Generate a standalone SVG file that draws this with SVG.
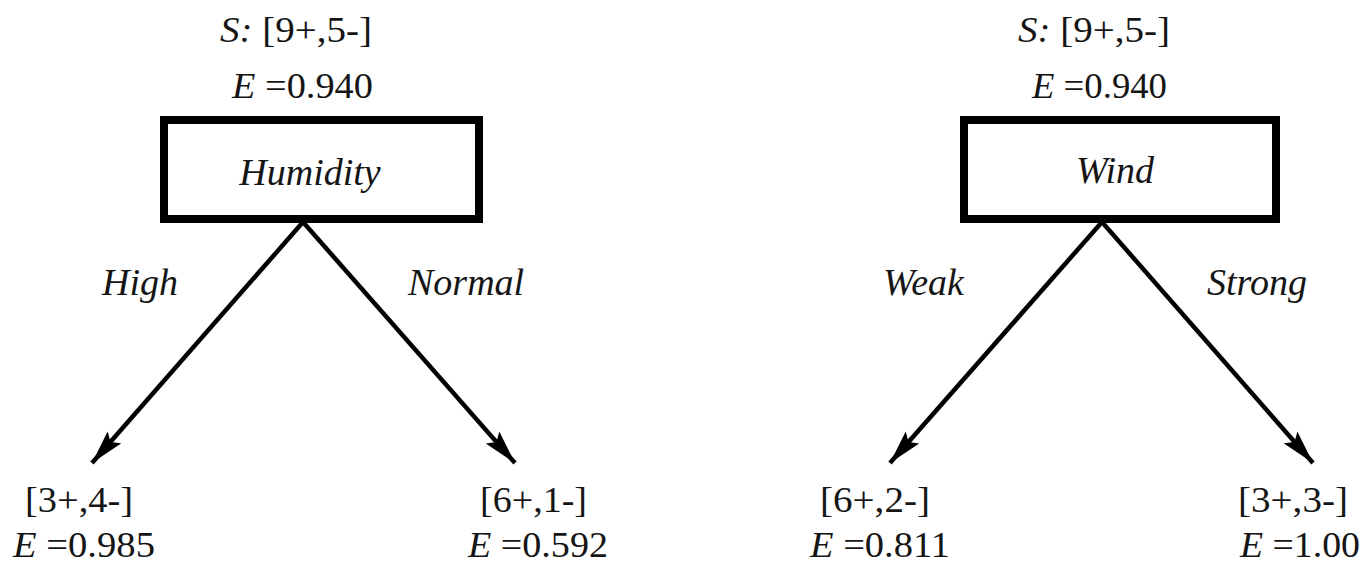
<svg xmlns="http://www.w3.org/2000/svg" width="1368" height="563" viewBox="0 0 1368 563">
<style>
  text { font-family: "Liberation Serif", "Times New Roman", serif; fill: #151515; }
  .t { font-size: 35px; }
  .lbl { font-size: 38px; font-style: italic; }
  .it { font-style: italic; }
  .box { fill: #fff; stroke: #000; stroke-width: 8; }
  .edge { stroke: #000; stroke-width: 4.5; fill: none; marker-end: url(#ah); }
</style>
<defs>
  <marker id="ah" markerUnits="userSpaceOnUse" markerWidth="36" markerHeight="20" viewBox="0 0 36 20" refX="34" refY="10" orient="auto">
    <path d="M0,1 L34,10 L0,19 L6,10 Z" fill="#000"/>
  </marker>
</defs>
<rect width="1368" height="563" fill="#fff"/>

<g id="connectors">
  <line class="edge" x1="303" y1="222" x2="92" y2="463"/>
  <line class="edge" x1="303" y1="222" x2="515" y2="463"/>
  <line class="edge" x1="1102" y1="222" x2="890" y2="463"/>
  <line class="edge" x1="1102" y1="222" x2="1313" y2="463"/>
  <text class="lbl" x="102" y="295">High</text>
  <text class="lbl" x="408" y="295">Normal</text>
  <text class="lbl" x="883" y="295">Weak</text>
  <text class="lbl" x="1207" y="295">Strong</text>
</g>

<g id="humidity">
  <text class="t" x="220" y="42" textLength="152" lengthAdjust="spacingAndGlyphs"><tspan class="it">S:</tspan> [9+,5-]</text>
  <text class="t" x="232" y="98" textLength="141" lengthAdjust="spacingAndGlyphs"><tspan class="it">E</tspan> =0.940</text>
  <rect class="box" x="164" y="120" width="315" height="99"/>
  <text class="lbl" x="310" y="185" text-anchor="middle">Humidity</text>
</g>

<g id="wind">
  <text class="t" x="1018" y="42" textLength="152" lengthAdjust="spacingAndGlyphs"><tspan class="it">S:</tspan> [9+,5-]</text>
  <text class="t" x="1032" y="98" textLength="135" lengthAdjust="spacingAndGlyphs"><tspan class="it">E</tspan> =0.940</text>
  <rect class="box" x="964" y="120" width="312" height="99"/>
  <text class="lbl" x="1115" y="183" text-anchor="middle">Wind</text>
</g>

<g id="high-leaf">
  <text class="t" x="25" y="512" textLength="108" lengthAdjust="spacingAndGlyphs">[3+,4-]</text>
  <text class="t" x="13" y="557" textLength="142" lengthAdjust="spacingAndGlyphs"><tspan class="it">E</tspan> =0.985</text>
</g>

<g id="normal-leaf">
  <text class="t" x="480" y="512" textLength="107" lengthAdjust="spacingAndGlyphs">[6+,1-]</text>
  <text class="t" x="468" y="557" textLength="140" lengthAdjust="spacingAndGlyphs"><tspan class="it">E</tspan> =0.592</text>
</g>

<g id="weak-leaf">
  <text class="t" x="820" y="512" textLength="110" lengthAdjust="spacingAndGlyphs">[6+,2-]</text>
  <text class="t" x="810" y="557" textLength="140" lengthAdjust="spacingAndGlyphs"><tspan class="it">E</tspan> =0.811</text>
</g>

<g id="strong-leaf">
  <text class="t" x="1238" y="512" textLength="110" lengthAdjust="spacingAndGlyphs">[3+,3-]</text>
  <text class="t" x="1240" y="557" textLength="120" lengthAdjust="spacingAndGlyphs"><tspan class="it">E</tspan> =1.00</text>
</g>
</svg>
